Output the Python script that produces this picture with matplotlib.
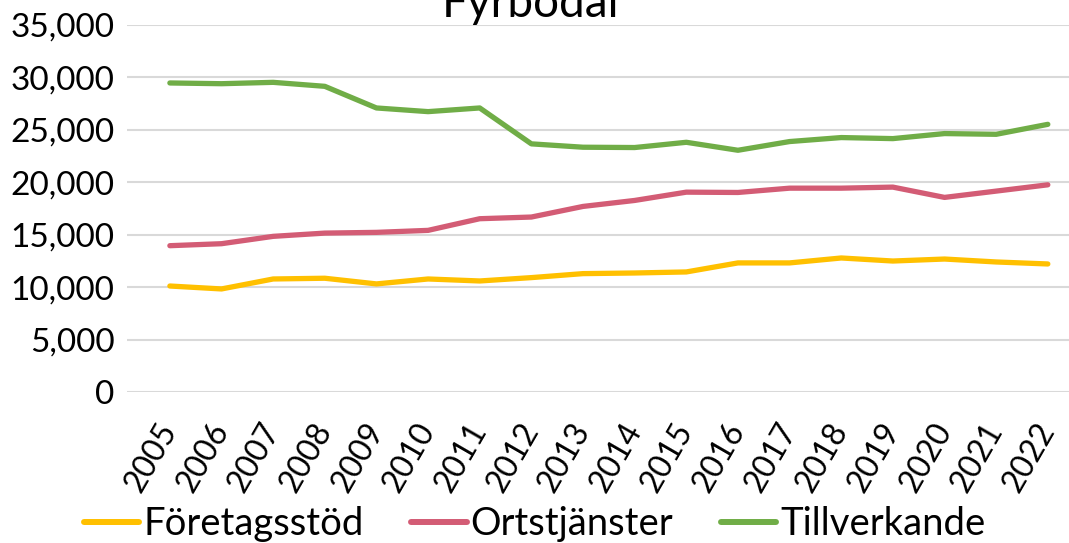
import matplotlib.pyplot as plt
from matplotlib.ticker import FuncFormatter

plt.rcParams['font.family'] = ['Lato', 'DejaVu Sans']

# Employment in Fyrbodal by sector
years = [str(y) for y in range(2005, 2023)]
foretagsstod = [10100, 9820, 10770, 10840, 10300, 10770, 10580, 10900, 11280,
                11340, 11440, 12300, 12300, 12770, 12480, 12670, 12390, 12200]
ortstjanster = [13940, 14130, 14830, 15140, 15210, 15400, 16510, 16670, 17680,
                18250, 19040, 19010, 19420, 19420, 19520, 18540, 19140, 19740]
tillverkande = [29440, 29370, 29500, 29120, 27060, 26710, 27060, 23640, 23320,
                23290, 23790, 23030, 23860, 24240, 24140, 24620, 24550, 25500]

series = [
    ('Företagsstöd', foretagsstod, '#FFC000'),
    ('Ortstjänster', ortstjanster, '#D35C75'),
    ('Tillverkande', tillverkande, '#70AD47'),
]

fig = plt.figure(figsize=(10.69, 5.43), dpi=100)
ax = fig.add_axes([0.1188, 0.278, 0.8812, 0.6767])

x = range(len(years))
for name, vals, color in series:
    ax.plot(x, vals, color=color, lw=3.8, label=name, solid_capstyle='round')

ax.set_ylim(0, 35000)
ax.set_yticks(range(0, 35001, 5000))
ax.yaxis.set_major_formatter(FuncFormatter(lambda v, p: f'{int(v):,}'))
ax.set_xlim(-0.83, len(years) - 1 + 0.41)
ax.set_xticks(list(x))
ax.set_xticklabels(years, rotation=60, ha='right', va='center',
                   rotation_mode='anchor')

ax.grid(axis='y', color='#D9D9D9', lw=1.5)
ax.set_axisbelow(True)
for s in ax.spines.values():
    s.set_visible(False)
ax.tick_params(axis='y', length=0, pad=9, labelsize=24)
ax.tick_params(axis='x', length=0, pad=24, labelsize=23)

fig.text(0.496, 0.969, 'Fyrbodal', ha='center', va='baseline', fontsize=33)

leg = fig.legend(loc='center', bbox_to_anchor=(0.5, 0.035), ncol=3,
                 frameon=False, fontsize=27.5, handlelength=1.45,
                 handletextpad=0.1, columnspacing=1.25, borderpad=0)
for line in leg.get_lines():
    line.set_linewidth(4.3)

fig.savefig('out.png', dpi=100)
